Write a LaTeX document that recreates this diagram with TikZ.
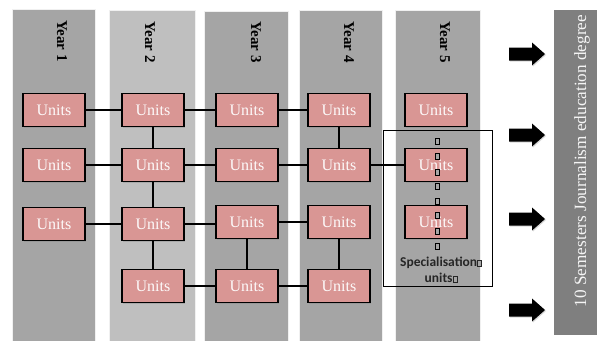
\documentclass[tikz,border=0pt]{standalone}
\usepackage{fontspec}
\setmainfont{Liberation Serif}
\newfontfamily\specfont{Carlito}
\usetikzlibrary{shadows}
\definecolor{colA}{HTML}{A5A5A5}
\definecolor{colB}{HTML}{BFBFBF}
\definecolor{barC}{HTML}{7F7F7F}
\definecolor{unitC}{HTML}{D99694}
\newcommand\missbox{\tikz[baseline=0pt]\draw[line width=0.5pt,fill=gray!70] (0,0) rectangle (4.2pt,6pt);}
\tikzset{
  yearcol/.style={fill=colA,draw=white!88!gray,line width=1pt},
  yearlbl/.style={rotate=-90,font=\fontsize{15}{15}\selectfont\bfseries,text=black},
  unit/.style={draw=black,line width=1.5pt,fill=unitC,minimum width=62pt,minimum height=33pt,inner sep=0pt,
    text=white!95!unitC,font=\fontsize{16}{16}\selectfont,
    drop shadow={opacity=0.35,shadow xshift=1.2pt,shadow yshift=-1.2pt}},
  link/.style={line width=2pt,black},
  blockarrow/.style={fill=black,drop shadow={opacity=0.3,shadow xshift=1pt,shadow yshift=-1pt}},
  tinybox/.style={draw=black,line width=0.5pt,fill=gray!70,minimum width=4.2pt,minimum height=5.5pt,inner sep=0pt}
}
\begin{document}
\begin{tikzpicture}[x=1pt,y=-1pt]
\useasboundingbox (0,0) rectangle (597,340);
\fill[white] (0,0) rectangle (597,340);
% columns
\draw[yearcol] (12,9) rectangle (95,341);
\draw[yearcol,fill=colB] (109,10) rectangle (195,341);
\draw[yearcol] (204,11) rectangle (288,341);
\draw[yearcol] (299,10) rectangle (382,341);
\draw[yearcol] (395,10) rectangle (480,341);
% year labels
\node[yearlbl] (y1) at (62,41) {Year 1};
\node[yearlbl] (y2) at (150,42) {Year 2};
\node[yearlbl] (y3) at (256,42) {Year 3};
\node[yearlbl] (y4) at (349,42) {Year 4};
\node[yearlbl] (y5) at (445,42) {Year 5};
% right bar
\fill[barC] (554,10) rectangle (597,335);
\node[rotate=90,text=white!92!barC,font=\fontsize{17.2}{17.2}\selectfont] (deg) at (582,161) {10 Semesters Journalism education degree};
% arrows
\foreach \yy [count=\i] in {54,135,219,310}{
  \fill[blockarrow] (509,\yy-6.5) -- (532,\yy-6.5) -- (532,\yy-11.5) -- (545,\yy) -- (532,\yy+11.5) -- (532,\yy+6.5) -- (509,\yy+6.5) -- cycle;
}
% units
\node[unit] (a1) at (54,110) {Units};
\node[unit] (b1) at (153,110) {Units};
\node[unit] (c1) at (247,110) {Units};
\node[unit] (d1) at (339,110) {Units};
\node[unit] (e1) at (436,110) {Units};
\node[unit] (a2) at (54,165) {Units};
\node[unit] (b2) at (153,165) {Units};
\node[unit] (c2) at (247,165) {Units};
\node[unit] (d2) at (339,165) {Units};
\node[unit] (e2) at (436,165) {Units};
\node[unit] (a3) at (54,224) {Units};
\node[unit] (b3) at (153,224) {Units};
\node[unit] (c3) at (247,222) {Units};
\node[unit] (d3) at (339,222) {Units};
\node[unit] (e3) at (436,222) {Units};
\node[unit] (b4) at (153,286) {Units};
\node[unit] (c4) at (247,286) {Units};
\node[unit] (d4) at (339,286) {Units};
% links
\draw[link] (a1) -- (b1);
\draw[link] (b1) -- (c1);
\draw[link] (c1) -- (d1);
\draw[link] (a2) -- (b2);
\draw[link] (b2) -- (c2);
\draw[link] (c2) -- (d2);
\draw[link] (d2) -- (e2);
\draw[link] (a3.east) -- (a3.east -| b3.west);
\draw[link] (b3.east) -- (b3.east -| c3.west);
\draw[link] (c3) -- (d3);
\draw[link] (b4) -- (c4);
\draw[link] (c4) -- (d4);
\draw[link] (b1) -- (b2);
\draw[link] (d1) -- (d2);
\draw[link] (b2) -- (b3);
\draw[link] (b3) -- (b4);
\draw[link] (c3) -- (c4);
\draw[link] (d3) -- (d4);
% specialisation frame
\draw[line width=1pt] (383,130) rectangle (492,286);
\foreach \yy [count=\i] in {141,156,172,186,201,215,231,246}{
  \node[tinybox] (t\i) at (437,\yy) {};
}
\node[align=center,font=\specfont\fontsize{13.5}{16}\selectfont\bfseries,text=black!85] (spec) at (441,270)
  {Specialisation\missbox\\units\missbox};
\end{tikzpicture}
\end{document}
